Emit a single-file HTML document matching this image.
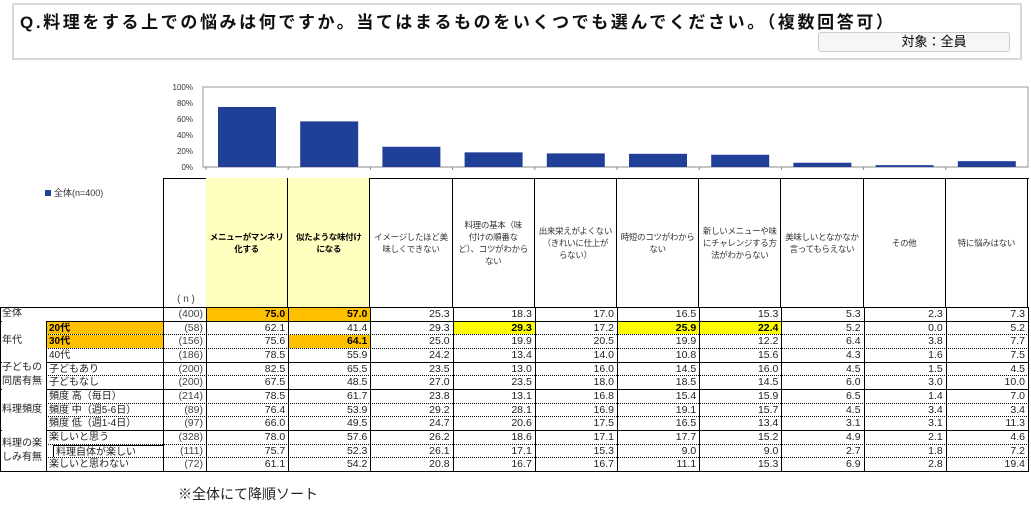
<!DOCTYPE html>
<html><head><meta charset="utf-8">
<style>
body{margin:0;width:1031px;height:517px;background:#fff;position:relative;overflow:hidden;font-family:"Liberation Sans","Noto Sans CJK JP",sans-serif;}
.a{position:absolute;box-sizing:border-box;}
.c{position:absolute;box-sizing:border-box;font-size:10.5px;line-height:13px;white-space:nowrap;overflow:hidden;color:#222;}
.h{position:absolute;box-sizing:border-box;font-size:8.5px;line-height:12px;color:#333;display:flex;align-items:center;justify-content:center;text-align:center;padding:0;border-right:1px solid #000;white-space:nowrap;overflow:hidden;letter-spacing:-0.3px;}
</style></head><body>
<div class="a" style="left:12px;top:3px;width:1010px;height:57px;border:2px solid #d8d8d8;"></div>
<div class="a" style="left:20px;top:8px;font-size:17px;letter-spacing:2.6px;font-weight:bold;color:#111;">Q.料理をする上での悩みは何ですか。当てはまるものをいくつでも選んでください。（複数回答可）</div>
<div class="a" style="left:818px;top:32px;width:192px;height:20px;border:1px solid #ccc;border-radius:3px;background:#f6f6f6;font-size:13px;line-height:18px;text-align:center;padding-left:40px;">対象：全員</div>
<svg class="a" style="left:0;top:0" width="1031" height="180" id="chart"></svg>
<div class="a" style="left:45px;top:186px;font-size:9px;color:#333;"><span style="display:inline-block;width:6px;height:6px;background:#1f3f99;margin-right:3px;"></span>全体(n=400)</div>
<div id="tbl"></div>
<div class="a" style="left:178px;top:484px;font-size:14px;color:#222;">※全体にて降順ソート</div>
<script>
const categories=["メニューがマンネリ化する","似たような味付けになる","イメージしたほど美味しくできない","料理の基本（味付けの順番など）、コツがわからない","出来栄えがよくない（きれいに仕上がらない）","時短のコツがわからない","新しいメニューや味にチャレンジする方法がわからない","美味しいとなかなか言ってもらえない","その他","特に悩みはない"];
const headerLines=[["メニューがマンネリ","化する"],["似たような味付け","になる"],["イメージしたほど美","味しくできない"],["料理の基本（味","付けの順番な","ど）、コツがわから","ない"],["出来栄えがよくない","（きれいに仕上が","らない）"],["時短のコツがわから","ない"],["新しいメニューや味","にチャレンジする方","法がわからない"],["美味しいとなかなか","言ってもらえない"],["その他"],["特に悩みはない"]];
const totalValues=[75.0,57.0,25.3,18.3,17.0,16.5,15.3,5.3,2.3,7.3];
const yTicks=[0,20,40,60,80,100];
const rowLabels=["全体","20代","30代","40代","子どもあり","子どもなし","頻度 高（毎日）","頻度 中（週5-6日）","頻度 低（週1-4日）","楽しいと思う","料理自体が楽しい","楽しいと思わない"];
const rowN=[400,58,156,186,200,200,214,89,97,328,111,72];
const tableValues=[
[75.0,57.0,25.3,18.3,17.0,16.5,15.3,5.3,2.3,7.3],
[62.1,41.4,29.3,29.3,17.2,25.9,22.4,5.2,0.0,5.2],
[75.6,64.1,25.0,19.9,20.5,19.9,12.2,6.4,3.8,7.7],
[78.5,55.9,24.2,13.4,14.0,10.8,15.6,4.3,1.6,7.5],
[82.5,65.5,23.5,13.0,16.0,14.5,16.0,4.5,1.5,4.5],
[67.5,48.5,27.0,23.5,18.0,18.5,14.5,6.0,3.0,10.0],
[78.5,61.7,23.8,13.1,16.8,15.4,15.9,6.5,1.4,7.0],
[76.4,53.9,29.2,28.1,16.9,19.1,15.7,4.5,3.4,3.4],
[66.0,49.5,24.7,20.6,17.5,16.5,13.4,3.1,3.1,11.3],
[78.0,57.6,26.2,18.6,17.1,17.7,15.2,4.9,2.1,4.6],
[75.7,52.3,26.1,17.1,15.3,9.0,9.0,2.7,1.8,7.2],
[61.1,54.2,20.8,16.7,16.7,11.1,15.3,6.9,2.8,19.4]];
const groups=[["全体",0,1],["年代",1,3],["子どもの\n同居有無",4,2],["料理頻度",6,3],["料理の楽\nしみ有無",9,3]];
const orangeCells=[[0,0],[0,1],[2,1]];
const yellowCells=[[1,3],[1,5],[1,6]];

const X0=206,CW=82.2,PT=87,PB=167;
const xCol=i=>X0+i*CW;
const yS=v=>PB-(v/100)*(PB-PT);
const NS="http://www.w3.org/2000/svg";
const svg=document.getElementById('chart');
function se(t,a){const e=document.createElementNS(NS,t);for(const k in a)e.setAttribute(k,a[k]);svg.appendChild(e);return e;}
let fr=se('rect',{x:203,y:PT,width:825,height:PB-PT,fill:'none',stroke:'#999','stroke-width':1});


yTicks.forEach(t=>{
  const tx=se('text',{x:193,y:yS(t)+3,'font-size':8,'text-anchor':'end',fill:'#333','font-family':'Liberation Sans, sans-serif'});
  tx.textContent=t+'%';
  
  
});
se('line',{x1:203,y1:PB,x2:1028,y2:PB,stroke:'#888'});
totalValues.forEach((v,i)=>{
  const r=se('rect',{x:xCol(i)+12,y:yS(v),width:58,height:PB-yS(v),fill:'#1f3f99'});
  
  
  se('line',{x1:xCol(i),y1:PB,x2:xCol(i),y2:PB+3,stroke:'#888'});
});

const T=document.getElementById('tbl');
function div(cls,st,txt){const d=document.createElement('div');d.className=cls;d.setAttribute('style',st);if(txt!=null)d.textContent=txt;T.appendChild(d);return d;}
const HT=178,HB=307,RH=13.67;
const ry=i=>HB+i*RH;
let hf=div('a',`left:163px;top:${HT}px;width:866px;height:${HB-HT}px;border-top:1px solid #000;border-left:1px solid #000;`);


let nh=div('c',`left:166px;top:${HB-14}px;width:40px;text-align:center;font-size:10px;color:#444;`,'( n )');


headerLines.forEach((ls,i)=>{
  const bg=i<2?'background:#ffffc0;font-weight:bold;color:#000;':'';
  const h=div('h',`left:${xCol(i)}px;top:${HT}px;width:${CW}px;height:${HB-HT}px;${bg}`);
  h.innerHTML=ls.join('<br>');
  
  
});
let tf=div('a',`left:0;top:${HB}px;width:1029px;height:${12*RH+1}px;border:1px solid #000;`);


[46,163,206].concat(categories.map((c,i)=>xCol(i+1))).forEach((x,k)=>{
  const top=k===0?ry(1):HB;
  div('a',`left:${x}px;top:${top}px;width:1px;height:${ry(12)-top}px;background:#000;`);
});
for(let r=1;r<12;r++){
  const solid=groups.some(g=>g[1]===r);
  div('a',`left:${solid?0:46}px;top:${ry(r)}px;width:${solid?1029:983}px;height:0;border-top:1px ${solid?'solid':'dotted'} #000;`);
}
groups.forEach(g=>{
  const w=g[2]===1&&g[1]===0?160:44;
  const d=div('c',`left:2px;top:${ry(g[1])}px;width:${w}px;height:${g[2]*RH}px;display:flex;align-items:center;white-space:pre;font-size:10px;line-height:14px;background:${g[1]===0?'transparent':'#fff'};`,g[0]);
  
  
});
const orange='#ffc000',yellow='#ffff00';
rowLabels.forEach((lab,r)=>{
  if(r>0){
    const hl=(r===1||r===2);
    const d=div('c',`left:${r===10?53:47}px;top:${ry(r)+1}px;width:${r===10?110:116}px;height:${RH-1}px;padding-left:2px;font-size:10px;${hl?'background:'+orange+';font-weight:bold;color:#000;':''}${r===10?'border-left:1px solid #000;border-top:1px solid #000;':''}`,lab);
    
    
  }
  const n=div('c',`left:164px;top:${ry(r)+1}px;width:41px;text-align:right;padding-right:2px;color:#444;`,'('+rowN[r]+')');
  
  
  tableValues[r].forEach((v,i)=>{
    let bg='';
    if(orangeCells.some(c=>c[0]===r&&c[1]===i))bg='background:'+orange+';font-weight:bold;color:#000;';
    if(yellowCells.some(c=>c[0]===r&&c[1]===i))bg='background:'+yellow+';font-weight:bold;color:#000;';
    const d=div('c',`left:${xCol(i)+1}px;top:${ry(r)+1}px;width:${CW-1}px;height:${RH-1}px;text-align:right;padding-right:3px;${bg}`,v.toFixed(1));
    
    
  });
});
</script>
</body></html>
